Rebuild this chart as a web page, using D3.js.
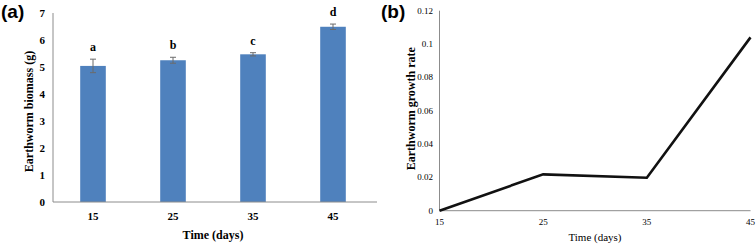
<!DOCTYPE html>
<html>
<head>
<meta charset="utf-8">
<script src="https://cdn.jsdelivr.net/npm/d3@7"></script>
<style>
  body { margin: 0; background: #fff; }
  svg { display: block; }
</style>
</head>
<body>
<div id="chart"></div>
<script>
// panel (a) data
const days = ["15", "25", "35", "45"];
const biomass = [5.04, 5.25, 5.47, 6.49];
const biomassErr = [0.25, 0.11, 0.06, 0.10];
const sigLetters = ["a", "b", "c", "d"];
const biomassTicks = [0, 1, 2, 3, 4, 5, 6, 7];

// panel (b) data
const dayNums = [15, 25, 35, 45];
const growthRate = [0, 0.0218, 0.0198, 0.104];
const rateTicks = [0, 0.02, 0.04, 0.06, 0.08, 0.1, 0.12];

const serif = "'Liberation Serif', 'Times New Roman', serif";
const axisGray = "#8c8c8c";

const svg = d3.select("#chart")
    .append("svg")
    .attr("width", 756)
    .attr("height", 246);

// ---------- panel (a) ----------
const a = { left: 53, right: 373, top: 13, bottom: 202 };

const xa = d3.scaleBand()
    .domain(days)
    .range([a.left, a.right])
    .paddingInner(0.68)
    .paddingOuter(0.34);

const ya = d3.scaleLinear()
    .domain([0, 7])
    .range([a.bottom, a.top]);

svg.append("text")
    .attr("x", 1)
    .attr("y", 18)
    .style("font-family", "Arial, 'Liberation Sans', sans-serif")
    .style("font-size", "19px")
    .style("font-weight", "bold")
    .text("(a)");

svg.selectAll("rect.bar")
    .data(biomass)
    .enter()
    .append("rect")
    .attr("class", "bar")
    .attr("x", (d, i) => xa(days[i]))
    .attr("y", d => ya(d))
    .attr("width", xa.bandwidth())
    .attr("height", d => ya(0) - ya(d))
    .attr("fill", "#4f81bd");

// error bars
const eb = svg.append("g")
    .attr("stroke", "#6b6b6b")
    .attr("stroke-width", 1);
biomass.forEach((v, i) => {
    const cx = xa(days[i]) + xa.bandwidth() / 2;
    const e = biomassErr[i];
    eb.append("line")
        .attr("x1", cx).attr("x2", cx)
        .attr("y1", ya(v + e)).attr("y2", ya(v - e));
    eb.append("line")
        .attr("x1", cx - 3).attr("x2", cx + 3)
        .attr("y1", ya(v + e)).attr("y2", ya(v + e));
    eb.append("line")
        .attr("x1", cx - 3).attr("x2", cx + 3)
        .attr("y1", ya(v - e)).attr("y2", ya(v - e));
});

svg.selectAll("text.sig")
    .data(sigLetters)
    .enter()
    .append("text")
    .attr("class", "sig")
    .attr("x", (d, i) => xa(days[i]) + xa.bandwidth() / 2)
    .attr("y", (d, i) => ya(biomass[i] + biomassErr[i]) - 8)
    .attr("text-anchor", "middle")
    .style("font-family", serif)
    .style("font-size", "12px")
    .style("font-weight", "bold")
    .text(d => d);

// axes (a)
svg.append("line")
    .attr("x1", a.left).attr("x2", a.left)
    .attr("y1", a.top).attr("y2", a.bottom)
    .attr("stroke", axisGray);
svg.append("line")
    .attr("x1", a.left).attr("x2", a.right + 4)
    .attr("y1", a.bottom).attr("y2", a.bottom)
    .attr("stroke", axisGray);

svg.selectAll("text.ytA")
    .data(biomassTicks)
    .enter()
    .append("text")
    .attr("class", "ytA")
    .attr("x", 45)
    .attr("y", d => ya(d) + 4)
    .attr("text-anchor", "end")
    .style("font-family", serif)
    .style("font-size", "11px")
    .style("font-weight", "bold")
    .text(d => d);

svg.selectAll("text.xtA")
    .data(days)
    .enter()
    .append("text")
    .attr("class", "xtA")
    .attr("x", d => xa(d) + xa.bandwidth() / 2)
    .attr("y", 220)
    .attr("text-anchor", "middle")
    .style("font-family", serif)
    .style("font-size", "11px")
    .style("font-weight", "bold")
    .text(d => d);

svg.append("text")
    .attr("x", (a.left + a.right) / 2)
    .attr("y", 239)
    .attr("text-anchor", "middle")
    .style("font-family", serif)
    .style("font-size", "12px")
    .style("font-weight", "bold")
    .text("Time (days)");

svg.append("text")
    .attr("transform", `translate(33,${(a.top + a.bottom) / 2 + 4}) rotate(-90)`)
    .attr("text-anchor", "middle")
    .style("font-family", serif)
    .style("font-size", "12px")
    .style("font-weight", "bold")
    .text("Earthworm biomass (g)");

// ---------- panel (b) ----------
const b = { left: 439.5, right: 750.5, top: 10.7, bottom: 210.7 };

const xb = d3.scaleLinear()
    .domain([15, 45])
    .range([b.left, b.right]);

const yb = d3.scaleLinear()
    .domain([0, 0.12])
    .range([b.bottom, b.top]);

svg.append("text")
    .attr("x", 381)
    .attr("y", 18)
    .style("font-family", "Arial, 'Liberation Sans', sans-serif")
    .style("font-size", "19px")
    .style("font-weight", "bold")
    .text("(b)");

svg.append("line")
    .attr("x1", b.left).attr("x2", b.left)
    .attr("y1", b.top).attr("y2", b.bottom)
    .attr("stroke", axisGray);
svg.append("line")
    .attr("x1", b.left).attr("x2", b.right)
    .attr("y1", b.bottom).attr("y2", b.bottom)
    .attr("stroke", axisGray);

const line = d3.line()
    .x((d, i) => xb(dayNums[i]))
    .y(d => yb(d));

svg.append("path")
    .datum(growthRate)
    .attr("d", line)
    .attr("fill", "none")
    .attr("stroke", "#111")
    .attr("stroke-width", 2.6)
    .attr("stroke-linejoin", "miter");

svg.selectAll("text.ytB")
    .data(rateTicks)
    .enter()
    .append("text")
    .attr("class", "ytB")
    .attr("x", 433)
    .attr("y", d => yb(d) + 3)
    .attr("text-anchor", "end")
    .style("font-family", serif)
    .style("font-size", "9px")
    .text(d => d);

svg.selectAll("text.xtB")
    .data(dayNums)
    .enter()
    .append("text")
    .attr("class", "xtB")
    .attr("x", d => xb(d))
    .attr("y", 225)
    .attr("text-anchor", "middle")
    .style("font-family", serif)
    .style("font-size", "9px")
    .text(d => d);

svg.append("text")
    .attr("x", 595)
    .attr("y", 241)
    .attr("text-anchor", "middle")
    .style("font-family", serif)
    .style("font-size", "11px")
    .text("Time (days)");

svg.append("text")
    .attr("transform", `translate(415,${(b.top + b.bottom) / 2 - 2}) rotate(-90)`)
    .attr("text-anchor", "middle")
    .style("font-family", serif)
    .style("font-size", "12px")
    .style("font-weight", "bold")
    .text("Earthworm growth rate");
</script>
</body>
</html>
